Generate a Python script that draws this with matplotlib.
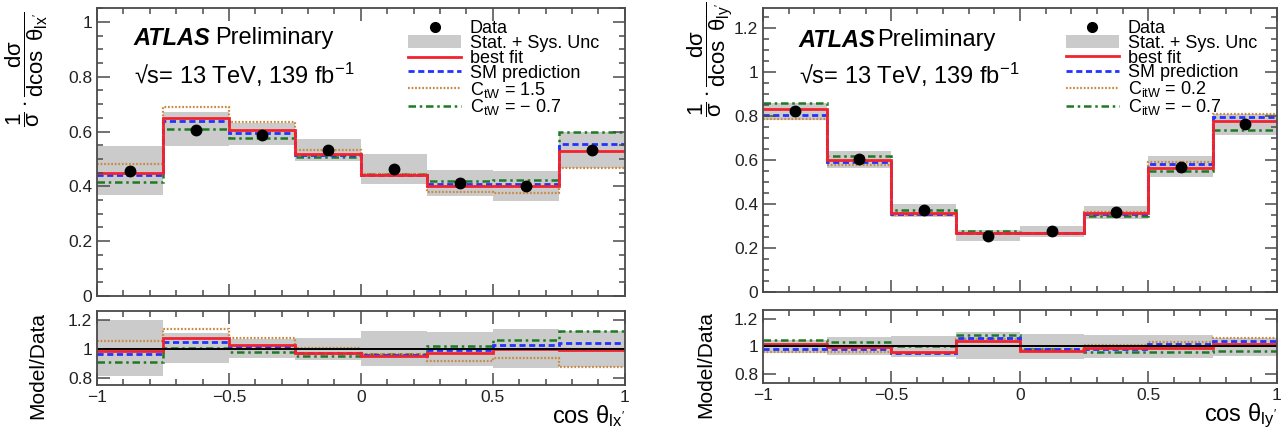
import numpy as np
import matplotlib
matplotlib.use("Agg")
import matplotlib.pyplot as plt
from matplotlib.lines import Line2D
from matplotlib.patches import Patch
from matplotlib.ticker import MultipleLocator, FuncFormatter

plt.rcParams['font.family'] = ['Liberation Sans', 'DejaVu Sans']
plt.rcParams['mathtext.fontset'] = 'custom'
plt.rcParams['mathtext.rm'] = 'Liberation Sans'
plt.rcParams['mathtext.it'] = 'Liberation Sans'
plt.rcParams['mathtext.bf'] = 'Liberation Sans:bold'

# bin edges of cos(theta)
edges = [-1.0, -0.75, -0.5, -0.25, 0.0, 0.25, 0.5, 0.75, 1.0]

# cos theta_lx'
lx_data = [0.457, 0.607, 0.589, 0.532, 0.462, 0.412, 0.400, 0.534]
lx_unc_lo = [0.370, 0.548, 0.552, 0.492, 0.407, 0.364, 0.347, 0.468]
lx_unc_hi = [0.546, 0.672, 0.630, 0.571, 0.519, 0.459, 0.455, 0.600]
lx_best = [0.450, 0.650, 0.606, 0.518, 0.440, 0.400, 0.400, 0.530]
lx_sm = [0.440, 0.637, 0.595, 0.515, 0.443, 0.409, 0.409, 0.555]
lx_pos = [0.480, 0.689, 0.633, 0.534, 0.445, 0.378, 0.374, 0.466]
lx_neg = [0.416, 0.610, 0.577, 0.507, 0.444, 0.421, 0.424, 0.600]

# cos theta_ly'
ly_data = [0.820, 0.602, 0.371, 0.255, 0.275, 0.362, 0.570, 0.763]
ly_unc_lo = [0.781, 0.562, 0.343, 0.232, 0.250, 0.332, 0.521, 0.712]
ly_unc_hi = [0.860, 0.642, 0.399, 0.281, 0.300, 0.392, 0.616, 0.810]
ly_best = [0.832, 0.600, 0.357, 0.266, 0.266, 0.357, 0.565, 0.776]
ly_sm = [0.802, 0.589, 0.354, 0.270, 0.270, 0.354, 0.580, 0.794]
ly_pos = [0.787, 0.579, 0.352, 0.268, 0.268, 0.365, 0.589, 0.810]
ly_neg = [0.858, 0.620, 0.372, 0.277, 0.270, 0.346, 0.548, 0.737]

C_RED = '#f2232e'
C_BLUE = '#2233ff'
C_ORANGE = '#c98a45'
C_GREEN = '#1d7a22'
C_BAND = '#cbcbcb'
C_FRAME = '#4a4a4a'


def fmt(v, pos):
    s = '%g' % v
    return s.replace('-', '\u2212')


def style_axes(ax, ymajor, yminor):
    ax.set_xlim(-1, 1)
    ax.xaxis.set_major_locator(MultipleLocator(0.5))
    ax.xaxis.set_minor_locator(MultipleLocator(0.1))
    ax.yaxis.set_major_locator(MultipleLocator(ymajor))
    if yminor:
        ax.yaxis.set_minor_locator(MultipleLocator(yminor))
    ax.tick_params(which='both', direction='in', top=True, right=True,
                   colors=C_FRAME, labelcolor='#222222', labelsize=12.5, width=1.1)
    ax.tick_params(which='major', length=9)
    ax.tick_params(which='minor', length=4.5)
    for s in ax.spines.values():
        s.set_color(C_FRAME)
        s.set_linewidth(1.3)
    ax.xaxis.set_major_formatter(FuncFormatter(fmt))
    ax.yaxis.set_major_formatter(FuncFormatter(fmt))


def draw_panel(axm, axr, data, lo, hi, best, sm, pos, neg, cname, pos_val, sub, ymax, rlim, ylab_y):
    data = np.array(data)
    lo = np.array(lo)
    hi = np.array(hi)
    models = [(best, C_RED, '-', 2.0), (sm, C_BLUE, (0, (2.2, 1.3)), 2.0),
              (pos, C_ORANGE, (0, (0.8, 0.8)), 1.6), (neg, C_GREEN, (0, (3, 1.5, 1, 1.5)), 1.8)]

    axm.stairs(hi, edges, baseline=lo, fill=True, color=C_BAND, lw=0)
    for vals, c, ls, lw in models[::-1]:
        axm.stairs(vals, edges, baseline=None, color=c, ls=ls, lw=lw)
    centers = 0.5 * (np.array(edges[:-1]) + np.array(edges[1:]))
    axm.plot(centers, data, 'o', color='black', ms=7.5, zorder=5)
    axm.set_ylim(0, ymax)
    style_axes(axm, 0.2, 0.05)
    axm.tick_params(labelbottom=False)

    axm.text(0.07, ylab_y[0], 'ATLAS', transform=axm.transAxes, fontsize=17,
             fontweight='bold', fontstyle='italic', va='center')
    axm.text(0.07 + 0.153, ylab_y[0], 'Preliminary', transform=axm.transAxes,
             fontsize=17, va='center')
    axm.text(0.07, ylab_y[1], '\u221as= 13 TeV, 139 fb$^{-1}$', transform=axm.transAxes,
             fontsize=17, va='center')

    handles = [Line2D([], [], marker='o', ls='none', color='black', ms=7),
               Patch(facecolor=C_BAND, edgecolor='none')]
    for vals, c, ls, lw in models:
        handles.append(Line2D([], [], color=c, ls=ls, lw=lw))
    labels = ['Data', 'Stat. + Sys. Unc', 'best fit', 'SM prediction',
              'C$_{%s}$ = %s' % (sub, pos_val), 'C$_{%s}$ = \u2212 0.7' % sub]
    axm.legend(handles, labels, loc='upper left', bbox_to_anchor=(0.59, 0.958),
               frameon=False, fontsize=13, labelspacing=-0.12, handlelength=2.9,
               handletextpad=0.5, borderpad=0, borderaxespad=0, handleheight=0.7)

    # ratio panel
    axr.stairs(hi / data, edges, baseline=lo / data, fill=True, color=C_BAND, lw=0)
    axr.axhline(1.0, color='black', lw=1.4)
    for vals, c, ls, lw in models[::-1]:
        axr.stairs(np.array(vals) / data, edges, baseline=None, color=c, ls=ls, lw=lw)
    axr.set_ylim(*rlim)
    style_axes(axr, 0.2, None)
    axr.set_xlabel(r'cos $\theta_{%s}$' % cname, loc='right', fontsize=17, labelpad=-1)
    axr.set_ylabel('Model/Data', loc='top', fontsize=15)
    axm.set_ylabel(r'$\dfrac{1}{\sigma}\cdot\dfrac{d\sigma}{d\cos\ \theta_{%s}}$' % cname,
                   loc='top', fontsize=16)


fig = plt.figure(figsize=(12.81, 4.29), dpi=100)
axm1 = fig.add_axes([0.0757, 0.310, 0.412, 0.671])
axr1 = fig.add_axes([0.0757, 0.1026, 0.412, 0.1725])
axm2 = fig.add_axes([0.5956, 0.3193, 0.4012, 0.662])
axr2 = fig.add_axes([0.5956, 0.1065, 0.4012, 0.172])

draw_panel(axm1, axr1, lx_data, lx_unc_lo, lx_unc_hi, lx_best, lx_sm, lx_pos, lx_neg,
           "lx'", '1.5', 'tW', 1.05, (0.75, 1.26), (0.896, 0.767))
draw_panel(axm2, axr2, ly_data, ly_unc_lo, ly_unc_hi, ly_best, ly_sm, ly_pos, ly_neg,
           "ly'", '0.2', 'itW', 1.29, (0.73, 1.27), (0.887, 0.764))

axm1.yaxis.set_label_coords(-0.089, 0.99)
axr1.yaxis.set_label_coords(-0.095, 0.98)
axm2.yaxis.set_label_coords(-0.054, 1.025)
axr2.yaxis.set_label_coords(-0.092, 0.98)

fig.savefig('out.png', dpi=100)
